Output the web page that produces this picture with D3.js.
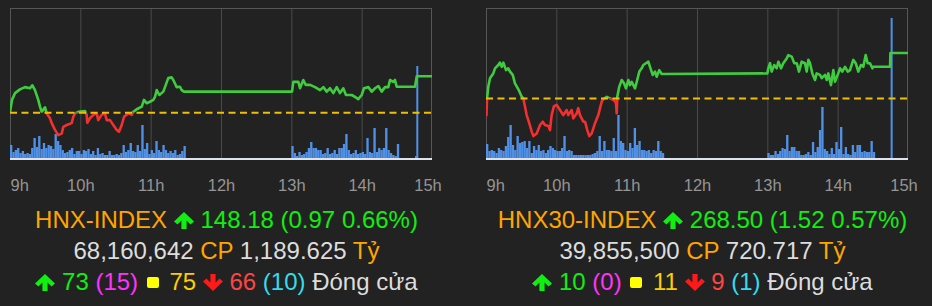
<!DOCTYPE html>
<html>
<head>
<meta charset="utf-8">
<title>HNX-INDEX / HNX30-INDEX</title>
<script src="https://d3js.org/d3.v7.min.js"></script>
<style>
body { margin: 0; background: #222222; width: 932px; height: 306px; overflow: hidden; position: relative;
       font-family: "Liberation Sans", Arial, Helvetica, sans-serif; }
svg.chart { position: absolute; left: 0; top: 0; }
.info { position: absolute; top: 203.5px; width: 453px; text-align: center; font-size: 24px; line-height: 31px; white-space: pre; }
.info div { height: 31px; }
.icon { display: inline-block; vertical-align: -1px; }
.sq { display: inline-block; width: 12px; height: 11px; border-radius: 2px; background: #ffff00; vertical-align: 2px; margin: 0 4px 0 2px; }
.tick text { font-family: "Liberation Sans", Arial, sans-serif; }
</style>
</head>
<body>
<svg class="chart" width="932" height="306"></svg>
<script>
// time = minutes after 9:00, 360 = 15:00
var hours = [9, 10, 11, 12, 13, 14, 15];

// ---- HNX-INDEX ----
var hnxRef = 147.21;
var hnxLine = [[0,147.21],[1.7,147.55],[4.3,147.73],[8.5,147.83],[12.8,147.89],[17.1,147.86],[19,147.94],
  [21.3,147.81],[24.1,147.55],[25.6,147.37],[27,147.23],[29.9,147.35],[31.3,147.19],[34.1,147.06],
  [35.6,146.93],[38.4,146.75],[41.2,146.61],[44.1,146.65],[45.5,146.83],[48.4,146.88],[52.6,146.93],
  [54,147.10],[55.5,147.19],[58.3,147.23],[64,147.25],[65.4,147.15],[65.9,146.94],[68.2,147.06],
  [71.1,147.15],[74,147.19],[75.3,147.01],[78.2,147.15],[81,147.19],[82.5,147.01],[85.3,147.01],
  [88.1,146.88],[91,146.75],[93,146.70],[95.3,146.88],[97.3,147.10],[100.9,147.19],[103.8,147.15],
  [105.2,147.23],[108.1,147.30],[112.4,147.37],[114.3,147.55],[116.6,147.46],[119.4,147.50],
  [122.3,147.55],[123.7,147.63],[125.2,147.81],[127.4,147.68],[130.8,147.77],[132.2,147.89],
  [135,148.13],[137.9,148.15],[139.3,148.08],[142.2,147.89],[145,147.90],[146.5,147.81],[148.4,147.77],
  [240.6,147.77],[241.7,148.03],[246,148.03],[247.4,147.86],[250.2,148.08],[252.3,147.95],[256,147.95],
  [260.2,147.89],[264.5,147.81],[267.3,147.89],[270.2,147.77],[273,147.86],[275.8,147.73],[278.7,147.89],
  [281.5,147.73],[284.3,147.86],[286.6,147.68],[291.5,147.68],[294.3,147.63],[297.1,147.57],[300,147.68],
  [302,147.86],[305.7,147.89],[308.6,147.77],[311.4,147.86],[314.2,147.92],[317.1,147.77],[319.9,147.89],
  [322.7,147.89],[324.2,148.08],[327,148.03],[328.4,148.08],[329.9,147.90],[345.5,147.90],[347,148.18],
  [360,148.18]];
// volume, 2-minute bins from 9:00 and from 13:00 (relative units)
var hnxVolAm = [13,6,8,10,5,7,4,5,4,10,20,11,22,9,15,10,13,12,9,24,17,13,8,5,6,8,10,4,7,7,4,8,7,9,4,7,3,10,4,
  5,3,3,7,3,3,4,3,5,13,6,8,15,7,6,13,7,33,9,15,4,8,5,17,8,6,13,8,5,7,5,8,3,4,7,12];
var hnxVolPm = [12,5,2,6,3,4,6,10,16,10,10,8,8,4,5,10,4,5,8,4,10,10,14,24,8,4,5,8,4,5,6,4,20,6,5,30,6,10,8,10,
  30,8,5,3,2,14];
var hnxVolAtc = [[345.5, 2], [346.6, 92]];

// ---- HNX30-INDEX ----
var hnx30Ref = 266.98;
var hnx30Line = [[0,266.99],[0.4,266.43],[0.9,266.99],[2,267.38],[3.4,267.66],[6.2,267.82],[7.7,267.99],
  [10.5,268.10],[11.9,268.18],[13.4,268.04],[14.8,268.18],[17.1,267.93],[19,267.99],[20.5,267.88],
  [22.8,267.77],[24.7,267.49],[27.6,267.29],[30.5,267.04],[31.8,266.99],[33.3,266.71],[34.7,266.43],
  [36.9,266.16],[39,265.88],[40.4,265.73],[43.3,265.82],[46.1,266.10],[48.4,266.21],[50.3,266.10],
  [53.1,266.07],[54.6,265.93],[56,266.43],[58,266.73],[60.3,266.77],[63.1,266.60],[65.9,266.43],
  [68.8,266.60],[70.2,266.43],[73.1,266.60],[74.5,266.32],[77.4,266.49],[78.7,266.66],[80.2,266.43],
  [83,266.21],[84.5,266.21],[86.4,265.93],[88.1,265.73],[90.2,265.82],[93,266.16],[95.8,266.43],
  [98.7,266.88],[100.1,266.96],[103,267.04],[107.2,266.96],[109.2,266.93],[110.9,266.82],[111.5,266.49],
  [112,267.04],[113.7,267.38],[115.8,267.60],[117.7,267.49],[119.4,267.32],[121.4,267.60],[122.8,267.43],
  [124.3,267.54],[127.1,267.32],[128.6,267.54],[130.8,267.88],[132.8,267.99],[134.2,268.10],[138.5,268.21],
  [139.9,268.04],[142.2,267.77],[144.2,267.88],[145.6,267.71],[147.8,267.93],[149.9,267.80],
  [240,267.82],[240.8,267.99],[242.3,268.16],[243.7,267.88],[245.9,268.10],[248,267.99],[249.4,268.21],
  [251.7,267.99],[253.6,268.16],[256.5,268.32],[257.9,268.43],[260.8,268.38],[263,268.16],[265.1,268.16],
  [267,267.88],[269.3,268.21],[272.1,268.16],[273.6,267.88],[275,268.27],[276.4,268.16],[278.4,267.82],
  [280.7,267.60],[282.1,267.82],[284.9,267.77],[286.4,267.66],[289.2,267.77],[290.7,267.60],[292,267.82],
  [294.3,267.43],[296.3,267.93],[297.7,267.54],[300.5,267.82],[302,267.99],[303.9,267.88],[306.3,268.04],
  [308.6,267.88],[310.5,267.93],[313.3,268.27],[315.4,268.16],[317.6,267.88],[319.9,268.10],[321.9,268.04],
  [323.9,268.43],[325.6,268.16],[327.6,268.16],[329.6,267.99],[330.4,268.04],[344.7,268.04],[345,268.50],
  [360,268.50]];
var hnx30VolAm = [14,7,8,7,5,10,8,7,12,21,33,13,8,22,15,16,17,10,17,5,12,8,13,7,8,5,8,12,10,8,7,7,10,22,7,8,
  7,3,3,3,3,3,3,3,3,4,5,7,22,7,17,8,8,7,20,7,43,17,15,8,7,15,10,30,13,17,8,8,7,8,5,8,7,17,7,5];
var hnx30VolPm = [5,3,3,7,4,7,10,9,23,7,11,11,7,7,3,3,4,6,3,16,6,11,28,51,9,7,4,10,4,16,9,31,4,11,4,3,13,6,
  13,13,6,7,6,6,17,6];
var hnx30VolAtc = [[345.2, 140]];

// ---- text ----
var names = ["HNX-INDEX", "HNX30-INDEX"];
var closes = ["148.18", "268.50"];
var changes = ["0.97", "1.52"];
var pcts = ["0.66%", "0.57%"];
var volumes = ["68,160,642", "39,855,500"];
var values = ["1,189.625", "720.717"];
var advances = [73, 10];
var ceilings = [15, 0];
var unchanged = [75, 11];
var declines = [66, 9];
var floors = [10, 1];

var svg = d3.select("svg.chart");
var W = 422, TOP = 8, BOT = 158;

function volBars(am, pm, atc) {
  var out = [];
  am.forEach(function(v, i) { out.push([i * 2, v]); });
  pm.forEach(function(v, i) { out.push([240 + i * 2, v]); });
  atc.forEach(function(d) { out.push(d); });
  return out;
}

function drawPanel(x0, line, ref, yDomain, bars, id) {
  var g = svg.append("g");
  var x = d3.scaleLinear().domain([0, 360]).range([x0, x0 + W]);
  var y = d3.scaleLinear().domain(yDomain).range([BOT, TOP]);
  var yv = d3.scaleLinear().domain([0, 150]).range([BOT, TOP]);

  // vertical hour grid
  g.append("g")
    .attr("transform", "translate(0," + BOT + ")")
    .call(d3.axisBottom(x).tickValues([60, 120, 180, 240, 300]).tickSize(-(BOT - TOP)).tickFormat(""))
    .call(function(a) { a.select(".domain").remove(); a.selectAll("line").attr("stroke", "#4a4a4a"); });

  g.append("rect").attr("x", x0 + 0.5).attr("y", TOP + 0.5).attr("width", W - 1).attr("height", BOT - TOP)
    .attr("fill", "none").attr("stroke", "#565656");

  // volume
  var bw = x(2) - x(0);
  g.selectAll(".vol").data(bars).enter().append("rect")
    .attr("x", function(d) { return x(d[0]); })
    .attr("y", function(d) { return yv(d[1]); })
    .attr("width", function(d) { return d[1] > 60 ? 2 : bw; })
    .attr("height", function(d) { return BOT - yv(d[1]); })
    .attr("fill", "#5090e6");

  g.append("line").attr("x1", x0).attr("x2", x0 + W).attr("y1", BOT + 1).attr("y2", BOT + 1)
    .attr("stroke", "#dde3ee").attr("stroke-width", 2);

  // price line, green above reference and red below
  var yr = y(ref);
  var defs = svg.append("defs");
  defs.append("clipPath").attr("id", id + "up").append("rect")
    .attr("x", x0).attr("y", 0).attr("width", W).attr("height", yr);
  defs.append("clipPath").attr("id", id + "dn").append("rect")
    .attr("x", x0).attr("y", yr).attr("width", W).attr("height", 200);
  var path = d3.line().x(function(d) { return x(d[0]); }).y(function(d) { return y(d[1]); });
  g.append("path").attr("d", path(line)).attr("clip-path", "url(#" + id + "up)")
    .attr("fill", "none").attr("stroke", "#3fcc3f").attr("stroke-width", 2.6).attr("stroke-linejoin", "round");
  g.append("path").attr("d", path(line)).attr("clip-path", "url(#" + id + "dn)")
    .attr("fill", "none").attr("stroke", "#f42f2f").attr("stroke-width", 2.6).attr("stroke-linejoin", "round");

  g.append("line").attr("x1", x0).attr("x2", x0 + W).attr("y1", yr).attr("y2", yr)
    .attr("stroke", "#f0c000").attr("stroke-width", 2).attr("stroke-dasharray", "7,4.5");

  // hour labels
  var ax = g.append("g")
    .attr("transform", "translate(0," + BOT + ")")
    .call(d3.axisBottom(x).tickValues(hours.map(function(h) { return (h - 9) * 60; }))
      .tickSize(0).tickPadding(21).tickFormat(function(d) { return (d / 60 + 9) + "h"; }));
  ax.select(".domain").remove();
  ax.selectAll("text").attr("fill", "#959595").attr("font-size", 16.5)
    .attr("text-anchor", function(d) { return d === 0 ? "start" : "middle"; })
    .attr("dx", function(d) { return d === 360 ? -4.5 : 0; });
}

drawPanel(10, hnxLine, hnxRef, [146, 150], volBars(hnxVolAm, hnxVolPm, hnxVolAtc), "p1");
drawPanel(486, hnx30Line, hnx30Ref, [265, 270], volBars(hnx30VolAm, hnx30VolPm, hnx30VolAtc), "p2");

// ---- info text ----
function arrow(sel, up, color) {
  var s = sel.append("svg").attr("class", "icon").attr("width", 20).attr("height", 17).attr("viewBox", "0 0 20 17");
  var pts = up ? "10,0 20,9.5 16.5,12.5 12.6,8.6 12.6,17 7.4,17 7.4,8.6 3.5,12.5 0,9.5"
               : "10,17 20,7.5 16.5,4.5 12.6,8.4 12.6,0 7.4,0 7.4,8.4 3.5,4.5 0,7.5";
  s.append("polygon").attr("points", pts).attr("fill", color);
}

[0, 1].forEach(function(i) {
  var box = d3.select("body").append("div").attr("class", "info").style("left", (i * 476) + "px");
  var l1 = box.append("div");
  l1.append("span").style("color", "#ffa500").text(names[i] + " ");
  arrow(l1, true, "#11ee11");
  l1.append("span").style("color", "#11ee11").text(" " + closes[i] + " (" + changes[i] + " " + pcts[i] + ")");

  var l2 = box.append("div");
  l2.append("span").style("color", "#dddddd").text(volumes[i] + " ");
  l2.append("span").style("color", "#ffa500").text("CP ");
  l2.append("span").style("color", "#dddddd").text(values[i] + " ");
  l2.append("span").style("color", "#ffa500").text("Tỷ");

  var l3 = box.append("div");
  arrow(l3, true, "#11ee11");
  l3.append("span").style("color", "#11ee11").text(" " + advances[i] + " ");
  l3.append("span").style("color", "#ff33ff").text("(" + ceilings[i] + ") ");
  l3.append("span").attr("class", "sq");
  l3.append("span").style("color", "#ffcc00").text(" " + unchanged[i] + " ");
  arrow(l3, false, "#ff1a1a");
  l3.append("span").style("color", "#ff4444").text(" " + declines[i] + " ");
  l3.append("span").style("color", "#33dded").text("(" + floors[i] + ") ");
  l3.append("span").style("color", "#dddddd").text("Đóng cửa");
});
</script>
</body>
</html>
